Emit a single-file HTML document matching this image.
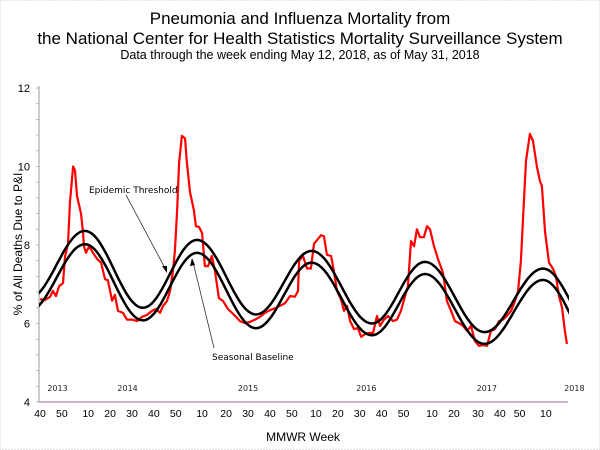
<!DOCTYPE html>
<html><head><meta charset="utf-8"><style>
body{margin:0;background:#fff;}
svg{display:block;font-family:"Liberation Sans",sans-serif;}
</style></head><body>
<svg id="chart" width="600" height="450" viewBox="0 0 600 450" xmlns="http://www.w3.org/2000/svg">
<defs><clipPath id="plotclip"><rect x="39" y="80" width="530" height="322"/></clipPath></defs>
<rect x="0.5" y="0.5" width="599" height="449" fill="#fff" stroke="#ccc" stroke-dasharray="1,2"/>
<text x="300" y="24" text-anchor="middle" font-size="17">Pneumonia and Influenza Mortality from</text>
<text x="300" y="44" text-anchor="middle" font-size="17">the National Center for Health Statistics Mortality Surveillance System</text>
<text x="300" y="59" text-anchor="middle" font-size="12.5">Data through the week ending May 12, 2018, as of May 31, 2018</text>
<text transform="translate(22,244) rotate(-90)" text-anchor="middle" font-size="12">% of All Deaths Due to P&amp;I</text>
<text x="303" y="441" text-anchor="middle" font-size="12">MMWR Week</text>
<g id="axes"></g>
<g id="marks"></g>
<g>
<text x="89" y="193" font-size="9" font-family="DejaVu Sans, sans-serif">Epidemic Threshold</text>
<line x1="126" y1="195" x2="166" y2="270" stroke="#333" stroke-width="0.8"/>
<polygon points="167,273 162,266 167,266" fill="#000"/>
</g>
<g>
<text x="212" y="360" font-size="9" font-family="DejaVu Sans, sans-serif">Seasonal Baseline</text>
<line x1="214" y1="348" x2="193" y2="262" stroke="#333" stroke-width="0.8"/>
<polygon points="192,258 190,266 195,265" fill="#000"/>
</g>
</svg>
<script>
const yTicks=[4,6,8,10,12];
const xTickWeeks=[0,10,22,32,42,52,62,74,85,95,105,115,126,136,146,156,166,179,189,200,210,219,231];
const xTickLabels=["40","50","10","20","30","40","50","10","20","30","40","50","10","20","30","40","50","10","20","30","40","50","10"];
const yearLabels=["2013","2014","2015","2016","2017","2018"];
const yearWeeks=[8,40,95,149,204,244];
const baseWeeks=[-5.5,20.5,47,71.7,98.6,124,151.6,175.8,203,229.7,256];
const baseVals=[6.3,8.02,6.08,7.8,5.88,7.55,5.7,7.26,5.48,7.11,5.19];
const threshVals=[6.62,8.36,6.4,8.13,6.23,7.85,6.0,7.57,5.78,7.4,5.6];
const obsWeeks=[0,2.3,4.6,5.9,7.3,8.7,10.5,11.4,12.8,13.7,15.1,16,16.9,18.7,19.6,20.1,21,22.4,24.2,26,27.9,29.7,31,32.9,34.2,35.6,37.9,39.7,42,44.3,46.6,48.9,51.1,53,54.8,56.2,58,59.4,60.7,61.6,62.6,63.5,64.8,66.2,67.1,68.5,70.3,71.2,72.6,74,75.3,76.7,78.5,79.9,81.7,83.6,85.8,87.7,89.5,91.3,93.6,95.9,98.2,100.5,102.7,105,107.3,109.6,111.9,114.2,116.4,117.8,118.3,120.1,121.9,123.7,125.1,126.9,128.3,129.7,131,132.9,134.2,135.6,137.4,138.8,140.2,141.6,143.4,145.2,146.6,148.4,150.2,152.1,153.9,155.3,157.1,158.9,161.2,163,164.8,166.7,168,169.4,170.8,172.1,173.5,175.3,176.7,178.1,179.9,181.7,184,185.8,187.7,189.5,191.3,193.2,195,196.8,198.6,200.5,202.3,204.1,205.9,207.8,209.6,211.4,213.2,215.1,216.9,218.3,219.6,220.5,221.9,223.7,225.1,226.9,228.3,229.2,230.6,232.4,234.2,235.6,237,238.4,239.7,240.6];
const obsVals=[6.62,6.6,6.68,6.83,6.7,6.95,7.03,7.7,8.03,9.1,10.0,9.9,9.25,8.8,8.35,7.97,7.8,7.97,7.8,7.65,7.55,7.13,7.1,6.58,6.73,6.32,6.27,6.1,6.1,6.06,6.17,6.22,6.32,6.37,6.27,6.45,6.57,6.83,7.33,7.85,8.87,10.1,10.78,10.72,10.1,9.35,8.87,8.48,8.46,8.3,7.46,7.46,7.72,7.33,6.65,6.57,6.37,6.27,6.17,6.06,6.01,6.04,6.1,6.17,6.27,6.34,6.39,6.45,6.52,6.7,6.68,6.83,7.6,7.72,7.4,7.4,8.03,8.15,8.25,8.22,7.75,7.72,7.33,6.83,6.62,6.32,6.45,6.06,5.86,5.88,5.66,5.73,5.76,5.76,6.19,5.94,6.1,6.19,6.06,6.1,6.32,6.7,6.95,8.1,7.97,8.4,8.2,8.2,8.48,8.4,7.97,7.65,7.29,6.57,6.32,6.06,6.01,5.94,5.81,5.94,5.55,5.43,5.45,5.43,5.81,5.86,6.06,6.1,6.19,6.32,6.57,6.83,7.6,8.61,10.14,10.83,10.65,10.0,9.62,9.5,8.35,7.55,7.4,7.2,6.7,6.4,5.81,5.48];

const NS="http://www.w3.org/2000/svg";
const xS=w=>40+w*2.19;
const yS=v=>402-(v-4)*39.25;
function mk(tag,attrs,parent){const e=document.createElementNS(NS,tag);for(const k in attrs)e.setAttribute(k,attrs[k]);parent.appendChild(e);return e;}
const axes=document.getElementById('axes'), marks=document.getElementById('marks');

const yAxis=mk('line',{x1:39,y1:86,x2:39,y2:402,stroke:'#999','stroke-width':1},axes);


const xAxis=mk('line',{x1:39,y1:402,x2:568,y2:402,stroke:'#b9a3c0','stroke-width':1.5},axes);


for(let v=4;v<=12.001;v+=0.4){const t=mk('line',{x1:36,y1:yS(v),x2:39,y2:yS(v),stroke:'#aaa','stroke-width':0.8},axes);}
yTicks.forEach(v=>{const t=mk('text',{x:30,y:yS(v)+4,'text-anchor':'end','font-size':11},axes);t.textContent=v;

});
xTickWeeks.forEach((w,i)=>{const t=mk('text',{x:xS(w),y:417,'text-anchor':'middle','font-size':10.5},axes);t.textContent=xTickLabels[i];

});
yearWeeks.forEach((w,i)=>{const t=mk('text',{x:xS(w),y:391,'text-anchor':'middle','font-size':8,'font-family':'DejaVu Sans, sans-serif',fill:'#222'},axes);t.textContent=yearLabels[i];

});

// cosine interpolation between successive extremes
function cosPath(ws,vs){let pts=[];
for(let i=0;i<ws.length-1;i++){for(let k=0;k<24;k++){const f=k/24;const w=ws[i]+(ws[i+1]-ws[i])*f;const v=vs[i]+(vs[i+1]-vs[i])*(1-Math.cos(Math.PI*f))/2;pts.push(xS(w).toFixed(1)+','+yS(v).toFixed(1));}}
pts.push(xS(ws[ws.length-1]).toFixed(1)+','+yS(vs[vs.length-1]).toFixed(1));
return 'M'+pts.join(' L');}

const obs=mk('path',{d:'M'+obsWeeks.map((w,i)=>xS(w).toFixed(1)+','+yS(obsVals[i]).toFixed(1)).join(' L'),fill:'none',stroke:'#f00','stroke-width':2.2,'stroke-linejoin':'round'},marks);


const th=mk('path',{d:cosPath(baseWeeks,threshVals),fill:'none',stroke:'#000','stroke-width':2.5,'clip-path':'url(#plotclip)'},marks);


const bl=mk('path',{d:cosPath(baseWeeks,baseVals),fill:'none',stroke:'#000','stroke-width':2.5,'clip-path':'url(#plotclip)'},marks);


</script>
</body></html>
